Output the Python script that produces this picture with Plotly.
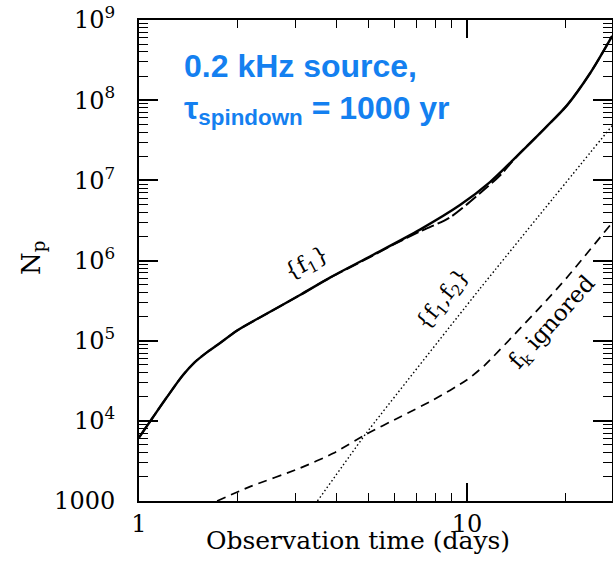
import numpy as np
import plotly.graph_objects as go

# ---------------- data ----------------
# {f1} solid curve
t_f1 = [1.0, 1.103, 1.217, 1.362, 1.48, 1.6, 1.75, 2.004, 2.456, 3.097, 3.822,
        4.99, 7.19, 9.52, 11.75, 14.2, 17.3, 20.2, 23.7, 27.7]
n_f1 = [6190, 1.11e4, 1.98e4, 3.72e4, 5.4e4, 7.0e4, 9.1e4, 1.36e5, 2.18e5, 3.71e5, 6.12e5,
        1.09e6, 2.43e6, 4.91e6, 9.5e6, 2.0e7, 4.48e7, 8.67e7, 2.15e8, 6.3e8]

# long-dashed companion curve
t_f1b = [1.0, 1.103, 1.217, 1.362, 1.48, 1.6, 1.75, 2.004, 2.456, 3.097, 3.822,
         4.99, 6.0, 7.19, 8.87, 10.95, 12.6, 14.2, 17.3, 20.2, 23.7, 27.7]
n_f1b = [6190, 1.11e4, 1.98e4, 3.72e4, 5.4e4, 7.0e4, 9.1e4, 1.36e5, 2.18e5, 3.71e5, 6.1e5,
         1.07e6, 1.6e6, 2.3e6, 3.45e6, 6.9e6, 1.15e7, 2.0e7, 4.48e7, 8.67e7, 2.15e8, 6.3e8]

# {f1,f2} dotted line
t_f12 = [3.5, 4.94, 10.96, 18.3, 27.7]
n_f12 = [1000, 7.1e3, 4.47e5, 5.96e6, 4.8e7]

# f_k ignored short-dashed curve
t_fk = [1.73, 2.18, 3.09, 3.91, 4.94, 6.25, 7.89, 9.98, 11.3, 17.5, 20.1, 27.3]
n_fk = [1000, 1510, 2560, 3940, 6840, 1.12e4, 1.82e4, 3.23e4, 4.9e4, 3.21e5, 6.03e5, 2.75e6]

x_major = [1, 10]
x_major_text = ["1", "10"]
x_minor = [2, 3, 4, 5, 6, 7, 8, 9, 20]
y_major = [1e3, 1e4, 1e5, 1e6, 1e7, 1e8, 1e9]
y_major_text = ["1000", "10<sup>4</sup>", "10<sup>5</sup>", "10<sup>6</sup>",
                "10<sup>7</sup>", "10<sup>8</sup>", "10<sup>9</sup>"]
y_minor = [m * 10 ** e for e in range(3, 9) for m in range(2, 10)]

# ---------------- layout geometry ----------------
W, H = 613, 568
ML, MR, MT, MB = 139, 1, 20, 67
PW, PH = W - ML - MR, H - MT - MB


def px(sx):
    """screen x pixel -> paper coordinate"""
    return (sx - ML) / PW


def py(sy):
    """screen y pixel -> paper coordinate"""
    return (H - MB - sy) / PH


SERIF = "DejaVu Serif"

fig = go.Figure()
fig.add_trace(go.Scatter(x=t_f1b, y=n_f1b, mode="lines",
                         line=dict(color="black", width=2, dash="13px,4px", shape="spline", smoothing=0.8),
                         hoverinfo="skip", showlegend=False))
fig.add_trace(go.Scatter(x=t_f1, y=n_f1, mode="lines",
                         line=dict(color="black", width=2.4, shape="spline", smoothing=0.8),
                         hoverinfo="skip", showlegend=False))
fig.add_trace(go.Scatter(x=t_f12, y=n_f12, mode="lines",
                         line=dict(color="black", width=1.4, dash="1.5px,2.5px", shape="spline", smoothing=0.3),
                         hoverinfo="skip", showlegend=False))
fig.add_trace(go.Scatter(x=t_fk, y=n_fk, mode="lines",
                         line=dict(color="black", width=1.7, dash="9px,6px", shape="spline", smoothing=0.6),
                         hoverinfo="skip", showlegend=False))

axis_common = dict(
    type="log", showgrid=False, zeroline=False,
    showline=True, linecolor="black", linewidth=2, mirror="ticks",
    ticks="inside", tickcolor="black", tickwidth=1.6,
    tickfont=dict(family=SERIF, size=24, color="black"),
    ticklabeloverflow="allow",
)

fig.update_xaxes(**axis_common, range=[0, PW / 328.0],
                 tickvals=x_major, ticktext=x_major_text, ticklen=18,
                 minor=dict(ticks="inside", ticklen=8, tickvals=x_minor,
                            tickcolor="black", tickwidth=1.4, showgrid=False))
fig.update_yaxes(**axis_common, range=[3, 9],
                 tickvals=y_major, ticktext=y_major_text, ticklen=19,
                 ticklabelstandoff=17,
                 minor=dict(ticks="inside", ticklen=9, tickvals=y_minor,
                            tickcolor="black", tickwidth=1.4, showgrid=False))

annots = [
    dict(text="Observation time (days)", x=px(358), y=py(540), textangle=0,
         font=dict(family=SERIF, size=25, color="black")),
    dict(text="N<sub>p</sub>", x=px(32), y=py(258), textangle=-90,
         font=dict(family=SERIF, size=26, color="black")),
    dict(text="{f<sub>1</sub>}", x=px(307), y=py(264), textangle=-28,
         font=dict(family=SERIF, size=22, color="black")),
    dict(text="{f<sub>1</sub>,f<sub>2</sub>}", x=px(443), y=py(300), textangle=-52,
         font=dict(family=SERIF, size=22, color="black")),
    dict(text="f<sub>k</sub> ignored", x=px(553), y=py(323), textangle=-48,
         font=dict(family=SERIF, size=23, color="black")),
]
for a in annots:
    fig.add_annotation(xref="paper", yref="paper", showarrow=False,
                       xanchor="center", yanchor="middle", **a)

fig.add_annotation(xref="paper", yref="paper", showarrow=False,
                   x=px(182), y=py(46), xanchor="left", yanchor="top", align="left",
                   text="<b>0.2 kHz source,</b><br><b>τ<sub>spindown</sub> = 1000 yr</b>",
                   font=dict(family="Liberation Sans", size=32, color="#1480f0"))

fig.update_layout(width=W, height=H, margin=dict(l=ML, r=MR, t=MT, b=MB, autoexpand=False),
                  plot_bgcolor="white", paper_bgcolor="white", showlegend=False)

fig.write_html("out.html", config={"displayModeBar": False},
               post_script="document.body.style.margin='0';")
